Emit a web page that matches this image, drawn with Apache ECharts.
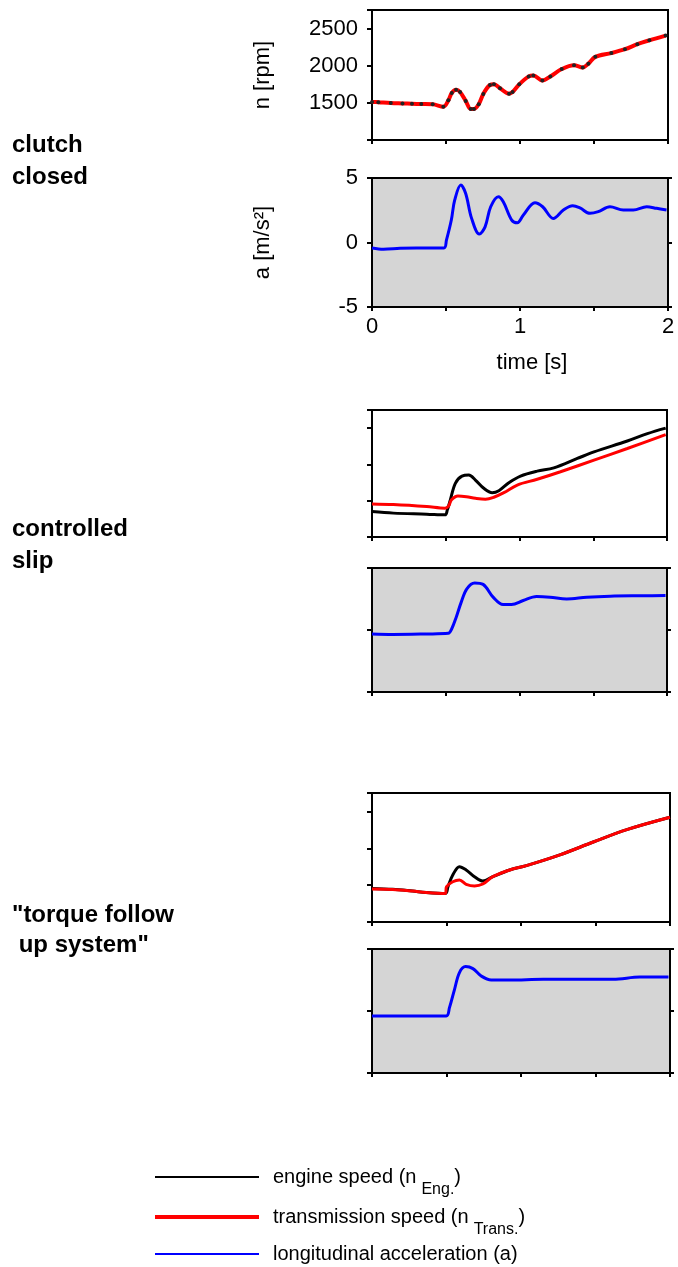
<!DOCTYPE html>
<html>
<head>
<meta charset="utf-8">
<script src="https://cdn.jsdelivr.net/npm/echarts@6/dist/echarts.min.js"></script>
<style>
  html, body { margin: 0; padding: 0; background: #fff; }
  #chart { width: 678px; height: 1267px; }
</style>
</head>
<body>
<div id="chart"></div>
<script>
// tick labels
var speedTicks = [1500, 2000, 2500];
var accelTicks = [-5, 0, 5];
var timeTicks = [0, 1, 2];

// clutch closed: engine and transmission speed are the same curve
var closedT = [0, 0.043, 0.127, 0.206, 0.27, 0.333, 0.41, 0.482, 0.516, 0.539, 0.568, 0.595, 0.633, 0.667, 0.689, 0.721, 0.752, 0.797, 0.824, 0.865, 0.926, 0.95, 0.995, 1.059, 1.09, 1.151, 1.205, 1.282, 1.365, 1.424, 1.462, 1.509, 1.617, 1.709, 1.793, 1.874, 1.984];
var closedN = [1513, 1508, 1497, 1492, 1488, 1484, 1480, 1449, 1534, 1633, 1675, 1646, 1526, 1418, 1418, 1482, 1620, 1740, 1749, 1697, 1624, 1646, 1749, 1856, 1869, 1800, 1856, 1955, 2006, 1977, 2028, 2119, 2170, 2222, 2290, 2342, 2406];
var closedAT = [0, 0.077, 0.189, 0.3, 0.486, 0.503, 0.536, 0.559, 0.6, 0.633, 0.673, 0.725, 0.764, 0.802, 0.854, 0.887, 0.944, 0.982, 1.023, 1.101, 1.153, 1.225, 1.293, 1.356, 1.405, 1.473, 1.529, 1.608, 1.698, 1.766, 1.856, 1.923, 1.99];
var closedA = [-0.42, -0.52, -0.45, -0.42, -0.42, 0.18, 1.74, 3.3, 4.46, 3.8, 1.87, 0.65, 1.21, 2.77, 3.55, 3.16, 1.74, 1.53, 2.13, 3.08, 2.77, 1.87, 2.52, 2.85, 2.68, 2.26, 2.39, 2.77, 2.52, 2.52, 2.77, 2.65, 2.52];

// controlled slip
var slipEngT = [0, 0.145, 0.371, 0.495, 0.511, 0.531, 0.565, 0.61, 0.656, 0.701, 0.758, 0.815, 0.86, 0.928, 1.007, 1.12, 1.233, 1.392, 1.505, 1.731, 1.867, 1.991];
var slipEngN = [1351, 1329, 1315, 1305, 1374, 1511, 1740, 1840, 1853, 1785, 1671, 1611, 1638, 1748, 1840, 1908, 1953, 2082, 2173, 2323, 2425, 2501];
var slipTrT = [0, 0.145, 0.371, 0.495, 0.52, 0.538, 0.583, 0.64, 0.701, 0.769, 0.826, 0.894, 0.985, 1.12, 1.278, 1.505, 1.731, 1.991];
var slipTrN = [1456, 1447, 1419, 1397, 1429, 1511, 1566, 1556, 1534, 1521, 1548, 1611, 1716, 1795, 1899, 2059, 2219, 2411];
var slipAT = [0, 0.14, 0.367, 0.517, 0.54, 0.571, 0.605, 0.643, 0.696, 0.753, 0.821, 0.889, 0.946, 1.025, 1.116, 1.207, 1.32, 1.456, 1.615, 1.842, 1.99];
var slipA = [-0.32, -0.36, -0.32, -0.27, 0.08, 1.03, 2.25, 3.32, 3.79, 3.68, 2.65, 2.05, 2.05, 2.38, 2.7, 2.65, 2.51, 2.65, 2.73, 2.76, 2.78];

// torque follow up system
var followEngT = [0, 0.139, 0.273, 0.363, 0.493, 0.51, 0.542, 0.587, 0.632, 0.688, 0.744, 0.811, 0.924, 1.036, 1.261, 1.485, 1.71, 2.0];
var followEngN = [1456, 1443, 1419, 1401, 1388, 1478, 1638, 1751, 1706, 1615, 1556, 1615, 1706, 1765, 1911, 2085, 2253, 2421];
var followTrT = [0, 0.139, 0.273, 0.363, 0.493, 0.5, 0.542, 0.587, 0.632, 0.688, 0.744, 0.811, 0.924, 1.036, 1.261, 1.485, 1.71, 2.0];
var followTrN = [1447, 1440, 1419, 1401, 1388, 1478, 1546, 1570, 1511, 1488, 1515, 1615, 1706, 1765, 1911, 2085, 2253, 2421];
var followAT = [0, 0.25, 0.498, 0.52, 0.554, 0.587, 0.628, 0.677, 0.733, 0.8, 0.924, 1.148, 1.372, 1.619, 1.798, 1.99];
var followA = [-0.4, -0.4, -0.4, 0.27, 1.75, 3.1, 3.58, 3.42, 2.82, 2.5, 2.5, 2.56, 2.56, 2.56, 2.74, 2.74];

var FONT = "'Liberation Sans', Arial, sans-serif";

function pairs(ts, vs) {
  return ts.map(function (t, i) { return [t, vs[i]]; });
}

var myChart = echarts.init(document.getElementById("chart"));

// grid boxes, top to bottom
var boxes = [
  { top: 10, height: 130, width: 296, gray: false },
  { top: 178, height: 129, width: 296, gray: true },
  { top: 410, height: 127, width: 295, gray: false },
  { top: 568, height: 124, width: 295, gray: true },
  { top: 793, height: 129, width: 298, gray: false },
  { top: 949, height: 124, width: 298, gray: true }
];

var grids = [], xAxes = [], yAxes = [];
boxes.forEach(function (b, i) {
  grids.push({
    left: 372, top: b.top, width: b.width, height: b.height,
    show: true, borderColor: "#000", borderWidth: 2,
    backgroundColor: b.gray ? "#d5d5d5" : "#fff"
  });
  xAxes.push({
    gridIndex: i, type: "value", min: 0, max: 2, interval: 0.5,
    axisLine: { show: true, onZero: false, lineStyle: { color: "#000", width: 2 } },
    axisTick: { show: true, length: 4, lineStyle: { color: "#000", width: 2 } },
    splitLine: { show: false },
    axisLabel: {
      show: i === 1, margin: 9, fontSize: 22, fontFamily: FONT, color: "#000",
      formatter: function (v) { return timeTicks.indexOf(v) >= 0 ? String(v) : ""; }
    },
    name: i === 1 ? "time [s]" : "",
    nameLocation: "middle", nameGap: 45,
    nameTextStyle: { fontSize: 22, fontFamily: FONT, color: "#000", padding: [0, 0, 0, 24] }
  });
  var isSpeed = !b.gray;
  yAxes.push({
    gridIndex: i, type: "value",
    min: isSpeed ? 1000 : -5, max: isSpeed ? 2750 : 5, interval: isSpeed ? 500 : 5,
    axisLine: { show: true, onZero: false, lineStyle: { color: "#000", width: 2 } },
    axisTick: { show: true, length: 5, lineStyle: { color: "#000", width: 2 } },
    splitLine: { show: false },
    axisLabel: {
      show: i < 2, margin: 14, fontSize: 22, fontFamily: FONT, color: "#000",
      formatter: function (v) {
        var list = isSpeed ? speedTicks : accelTicks;
        return list.indexOf(v) >= 0 ? String(v) : "";
      }
    },
    name: i === 0 ? "n [rpm]" : (i === 1 ? "a [m/s²]" : ""),
    nameLocation: "middle", nameGap: 98, nameRotate: 90,
    nameTextStyle: { fontSize: 22, fontFamily: FONT, color: "#000" }
  });
});
// right-hand tick marks on the acceleration frames
[1, 3, 5].forEach(function (i) {
  yAxes.push({
    gridIndex: i, type: "value", position: "right", min: -5, max: 5, interval: 5,
    axisLine: { show: true, onZero: false, lineStyle: { color: "#000", width: 2 } },
    axisTick: { show: true, length: 4, lineStyle: { color: "#000", width: 2 } },
    axisLabel: { show: false }, splitLine: { show: false }
  });
});

var ENG = "engine speed", TRN = "transmission speed", ACC = "longitudinal acceleration";

function lineSeries(name, grid, data, color, width, z) {
  return {
    name: name, type: "line", xAxisIndex: grid, yAxisIndex: grid,
    data: data, showSymbol: false, symbol: "none", smooth: 0.35,
    lineStyle: { color: color, width: width }, itemStyle: { color: color },
    z: z || 2, silent: true
  };
}

var series = [
  lineSeries(TRN, 0, pairs(closedT, closedN), "#ff0000", 4, 2),
  {
    name: ENG, type: "line", xAxisIndex: 0, yAxisIndex: 0,
    data: pairs(closedT, closedN), smooth: 0.35,
    showSymbol: true, symbol: "circle", symbolSize: 4,
    lineStyle: { opacity: 0 }, itemStyle: { color: "#222" }, z: 3, silent: true
  },
  lineSeries(ACC, 1, pairs(closedAT, closedA), "#0000ff", 3),
  lineSeries(ENG, 2, pairs(slipEngT, slipEngN), "#000000", 3),
  lineSeries(TRN, 2, pairs(slipTrT, slipTrN), "#ff0000", 3),
  lineSeries(ACC, 3, pairs(slipAT, slipA), "#0000ff", 3),
  lineSeries(ENG, 4, pairs(followEngT, followEngN), "#000000", 3),
  lineSeries(TRN, 4, pairs(followTrT, followTrN), "#ff0000", 3),
  lineSeries(ACC, 5, pairs(followAT, followA), "#0000ff", 3)
];

function legendRow(name, top, color, thick, text) {
  return {
    data: [{ name: name, icon: "rect", itemStyle: { color: color } }],
    left: 155, top: top, padding: 0, itemWidth: 104, itemHeight: thick,
    selectedMode: false,
    formatter: function () { return text; },
    textStyle: {
      color: "#000", fontFamily: FONT, fontSize: 20, padding: [0, 0, 0, 9],
      rich: {
        m: { fontSize: 20, fontFamily: FONT, color: "#000" },
        s: { fontSize: 16, fontFamily: FONT, color: "#000", padding: [26, 0, 0, 5] }
      }
    }
  };
}

var option = {
  animation: false,
  backgroundColor: "#fff",
  grid: grids,
  xAxis: xAxes,
  yAxis: yAxes,
  series: series,
  legend: [
    legendRow(ENG, 1167, "#000000", 2, "{m|engine speed (n}{s|Eng.}{m|)}"),
    legendRow(TRN, 1207, "#ff0000", 4, "{m|transmission speed (n}{s|Trans.}{m|)}"),
    legendRow(ACC, 1244, "#0000ff", 2, "{m|longitudinal acceleration (a)}")
  ],
  graphic: [
    { type: "text", left: 12, top: 129, style: { text: "clutch\nclosed", font: "bold 24px " + FONT, lineHeight: 32, fill: "#000" } },
    { type: "text", left: 12, top: 513, style: { text: "controlled\nslip", font: "bold 24px " + FONT, lineHeight: 32, fill: "#000" } },
    { type: "text", left: 12, top: 900, style: { text: "\"torque follow\n up system\"", font: "bold 24px " + FONT, lineHeight: 30, fill: "#000" } }
  ]
};

myChart.setOption(option);
</script>
</body>
</html>
